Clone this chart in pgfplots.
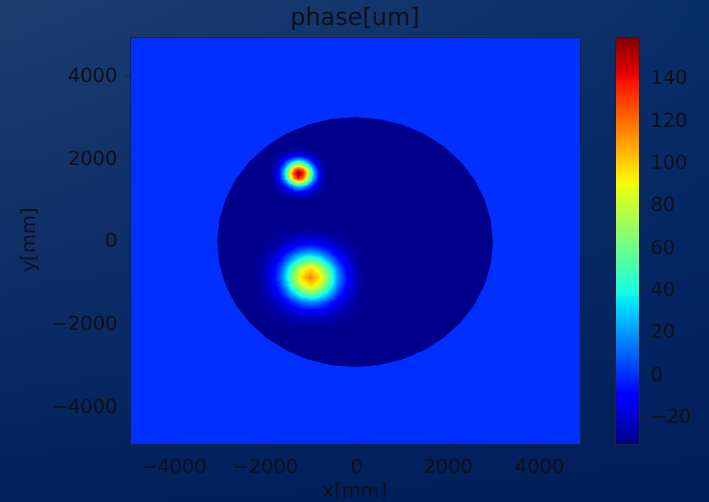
\documentclass[border=0pt]{standalone}
\usepackage{fontspec}
\setmainfont{DejaVu Sans}
\usepackage{pgfplots}
\pgfplotsset{compat=1.18}
\usetikzlibrary{backgrounds,shadings}

\definecolor{txt}{RGB}{15,15,25}
\definecolor{frame}{RGB}{35,35,45}
\definecolor{bgfield}{RGB}{0,48,255}
\definecolor{circ}{RGB}{0,0,140}
\definecolor{bgUL}{RGB}{30,62,112}
\definecolor{bgUR}{RGB}{8,46,106}
\definecolor{bgLL}{RGB}{0,33,92}
\definecolor{bgLR}{RGB}{0,30,90}

\pgfplotsset{
 colormap={mpljet}{rgb255(0cm)=(0,0,128) rgb255(22cm)=(0,0,255) rgb255(25cm)=(0,0,255) rgb255(68cm)=(0,219,255) rgb255(70cm)=(0,230,247) rgb255(75cm)=(21,255,226) rgb255(128cm)=(238,255,8) rgb255(130cm)=(247,245,0) rgb255(132cm)=(255,236,0) rgb255(178cm)=(255,19,0) rgb255(182cm)=(232,0,0) rgb255(200cm)=(128,0,0)}
}

\begin{document}
\begin{tikzpicture}
\begin{axis}[name=ax, at={(0,0)}, anchor=south west,
 scale only axis, width=450bp, height=407bp,
 xmin=-4960, xmax=4880, ymin=-4900, ymax=4920,
 axis background/.style={fill=bgfield},
 colormap name=mpljet, point meta min=-33, point meta max=159.2,
 xtick={-4000,-2000,0,2000,4000}, xticklabels={−4000,−2000,0,2000,4000},
 ytick={-4000,-2000,0,2000,4000}, yticklabels={−4000,−2000,0,2000,4000},
 tick align=outside, xtick pos=bottom, ytick pos=left, major tick length=5bp,
 tick style={frame, line width=0.8bp},
 axis line style={frame, line width=0.8bp},
 ticklabel style={font=\fontsize{19.5}{22}\selectfont, text=txt},
 xticklabel style={yshift=-7bp},
 yticklabel style={xshift=-4bp},
 xlabel={x[mm]}, ylabel={y[mm]}, title={phase[um]},
 label style={font=\fontsize{19.5}{22}\selectfont, text=txt},
 xlabel style={at={(axis description cs:0.5,0)}, anchor=base, yshift=-53bp},
 ylabel style={at={(axis description cs:0,0.5)}, anchor=center, yshift=100bp},
 title style={font=\fontsize{24}{28}\selectfont, text=txt, at={(axis description cs:0.5,1)}, anchor=base, yshift=6bp},
 colorbar,
 colorbar/width=24bp,
 colorbar style={scale only axis, width=24bp, at={(parent axis.north east)}, anchor=north west, xshift=26.5bp,
   ytick={-20,0,20,40,60,80,100,120,140},
   yticklabels={−20,0,20,40,60,80,100,120,140},
   tick align=outside, major tick length=5bp,
   tick style={frame, line width=0.8bp},
   axis line style={frame, line width=0.8bp},
   ticklabel style={font=\fontsize{19.5}{22}\selectfont, text=txt, xshift=3bp}},
]
% circular region
\addplot[fill=circ, draw=none] coordinates {
(2975,-28) (2929,495) (2793,1003) (2571,1480) (2269,1910) (1898,2281) (1468,2583) (991,2805) (483,2941)
(-40,2987) (-563,2941) (-1071,2805) (-1548,2583) (-1978,2281) (-2349,1910) (-2651,1480) (-2873,1003) (-3009,495)
(-3055,-28) (-3009,-551) (-2873,-1059) (-2651,-1536) (-2349,-1966) (-1978,-2337) (-1548,-2639) (-1071,-2861) (-563,-2997)
(-40,-3043) (483,-2997) (991,-2861) (1468,-2639) (1898,-2337) (2269,-1966) (2571,-1536) (2793,-1059) (2929,-551)
} -- cycle;
% spot 1
\addplot[surf, shader=interp, mesh/cols=13, point meta=explicit] table[row sep=\\, meta=c] {
x y c\\
-1909 1001 -31\\ -1804 1001 -31\\ -1699 1001 -31\\ -1594 1001 -31\\ -1489 1001 -31\\ -1384 1001 -31\\ -1279 1001 -31\\ -1174 1001 -31\\ -1069 1001 -31\\ -964 1001 -31\\ -859 1001 -31\\ -754 1001 -31\\ -649 1001 -31\\
-1909 1106 -31\\ -1804 1106 -30.6\\ -1699 1106 -29.9\\ -1594 1106 -28.3\\ -1489 1106 -25.9\\ -1384 1106 -23.6\\ -1279 1106 -22.7\\ -1174 1106 -23.6\\ -1069 1106 -25.9\\ -964 1106 -28.3\\ -859 1106 -29.9\\ -754 1106 -30.6\\ -649 1106 -31\\
-1909 1211 -31\\ -1804 1211 -29.9\\ -1699 1211 -27.5\\ -1594 1211 -22.7\\ -1489 1211 -15.4\\ -1384 1211 -8.3\\ -1279 1211 -5.3\\ -1174 1211 -8.3\\ -1069 1211 -15.4\\ -964 1211 -22.7\\ -859 1211 -27.5\\ -754 1211 -29.9\\ -649 1211 -31\\
-1909 1316 -31\\ -1804 1316 -28.3\\ -1699 1316 -22.7\\ -1594 1316 -11.0\\ -1489 1316 6.4\\ -1384 1316 23.4\\ -1279 1316 30.7\\ -1174 1316 23.4\\ -1069 1316 6.4\\ -964 1316 -11.0\\ -859 1316 -22.7\\ -754 1316 -28.3\\ -649 1316 -31\\
-1909 1421 -31\\ -1804 1421 -25.9\\ -1699 1421 -15.4\\ -1594 1421 6.4\\ -1489 1421 38.9\\ -1384 1421 70.7\\ -1279 1421 84.2\\ -1174 1421 70.7\\ -1069 1421 38.9\\ -964 1421 6.4\\ -859 1421 -15.4\\ -754 1421 -25.9\\ -649 1421 -31\\
-1909 1526 -31\\ -1804 1526 -23.6\\ -1699 1526 -8.3\\ -1594 1526 23.4\\ -1489 1526 70.7\\ -1384 1526 117.0\\ -1279 1526 136.7\\ -1174 1526 117.0\\ -1069 1526 70.7\\ -964 1526 23.4\\ -859 1526 -8.3\\ -754 1526 -23.6\\ -649 1526 -31\\
-1909 1631 -31\\ -1804 1631 -22.7\\ -1699 1631 -5.3\\ -1594 1631 30.7\\ -1489 1631 84.2\\ -1384 1631 136.7\\ -1279 1631 159\\ -1174 1631 136.7\\ -1069 1631 84.2\\ -964 1631 30.7\\ -859 1631 -5.3\\ -754 1631 -22.7\\ -649 1631 -31\\
-1909 1736 -31\\ -1804 1736 -23.6\\ -1699 1736 -8.3\\ -1594 1736 23.4\\ -1489 1736 70.7\\ -1384 1736 117.0\\ -1279 1736 136.7\\ -1174 1736 117.0\\ -1069 1736 70.7\\ -964 1736 23.4\\ -859 1736 -8.3\\ -754 1736 -23.6\\ -649 1736 -31\\
-1909 1841 -31\\ -1804 1841 -25.9\\ -1699 1841 -15.4\\ -1594 1841 6.4\\ -1489 1841 38.9\\ -1384 1841 70.7\\ -1279 1841 84.2\\ -1174 1841 70.7\\ -1069 1841 38.9\\ -964 1841 6.4\\ -859 1841 -15.4\\ -754 1841 -25.9\\ -649 1841 -31\\
-1909 1946 -31\\ -1804 1946 -28.3\\ -1699 1946 -22.7\\ -1594 1946 -11.0\\ -1489 1946 6.4\\ -1384 1946 23.4\\ -1279 1946 30.7\\ -1174 1946 23.4\\ -1069 1946 6.4\\ -964 1946 -11.0\\ -859 1946 -22.7\\ -754 1946 -28.3\\ -649 1946 -31\\
-1909 2051 -31\\ -1804 2051 -29.9\\ -1699 2051 -27.5\\ -1594 2051 -22.7\\ -1489 2051 -15.4\\ -1384 2051 -8.3\\ -1279 2051 -5.3\\ -1174 2051 -8.3\\ -1069 2051 -15.4\\ -964 2051 -22.7\\ -859 2051 -27.5\\ -754 2051 -29.9\\ -649 2051 -31\\
-1909 2156 -31\\ -1804 2156 -30.6\\ -1699 2156 -29.9\\ -1594 2156 -28.3\\ -1489 2156 -25.9\\ -1384 2156 -23.6\\ -1279 2156 -22.7\\ -1174 2156 -23.6\\ -1069 2156 -25.9\\ -964 2156 -28.3\\ -859 2156 -29.9\\ -754 2156 -30.6\\ -649 2156 -31\\
-1909 2261 -31\\ -1804 2261 -31\\ -1699 2261 -31\\ -1594 2261 -31\\ -1489 2261 -31\\ -1384 2261 -31\\ -1279 2261 -31\\ -1174 2261 -31\\ -1069 2261 -31\\ -964 2261 -31\\ -859 2261 -31\\ -754 2261 -31\\ -649 2261 -31\\
};
% spot 2
\addplot[surf, shader=interp, mesh/cols=13, point meta=explicit] table[row sep=\\, meta=c] {
x y c\\
-2253 -2094 -31\\ -2048 -2094 -31\\ -1843 -2094 -31\\ -1638 -2094 -31\\ -1433 -2094 -31\\ -1228 -2094 -31\\ -1023 -2094 -31\\ -818 -2094 -31\\ -613 -2094 -31\\ -408 -2094 -31\\ -203 -2094 -31\\ 2 -2094 -31\\ 207 -2094 -31\\
-2253 -1889 -31\\ -2048 -1889 -30.7\\ -1843 -1889 -30.1\\ -1638 -1889 -28.9\\ -1433 -1889 -27.1\\ -1228 -1889 -25.3\\ -1023 -1889 -24.6\\ -818 -1889 -25.3\\ -613 -1889 -27.1\\ -408 -1889 -28.9\\ -203 -1889 -30.1\\ 2 -1889 -30.7\\ 207 -1889 -31\\
-2253 -1684 -31\\ -2048 -1684 -30.1\\ -1843 -1684 -28.3\\ -1638 -1684 -24.6\\ -1433 -1684 -19.0\\ -1228 -1684 -13.6\\ -1023 -1684 -11.2\\ -818 -1684 -13.6\\ -613 -1684 -19.0\\ -408 -1684 -24.6\\ -203 -1684 -28.3\\ 2 -1684 -30.1\\ 207 -1684 -31\\
-2253 -1479 -31\\ -2048 -1479 -28.9\\ -1843 -1479 -24.6\\ -1638 -1479 -15.6\\ -1433 -1479 -2.3\\ -1228 -1479 10.8\\ -1023 -1479 16.4\\ -818 -1479 10.8\\ -613 -1479 -2.3\\ -408 -1479 -15.6\\ -203 -1479 -24.6\\ 2 -1479 -28.9\\ 207 -1479 -31\\
-2253 -1274 -31\\ -2048 -1274 -27.1\\ -1843 -1274 -19.0\\ -1638 -1274 -2.3\\ -1433 -1274 22.7\\ -1228 -1274 47.2\\ -1023 -1274 57.5\\ -818 -1274 47.2\\ -613 -1274 22.7\\ -408 -1274 -2.3\\ -203 -1274 -19.0\\ 2 -1274 -27.1\\ 207 -1274 -31\\
-2253 -1069 -31\\ -2048 -1069 -25.3\\ -1843 -1069 -13.6\\ -1638 -1069 10.8\\ -1433 -1069 47.2\\ -1228 -1069 82.7\\ -1023 -1069 97.8\\ -818 -1069 82.7\\ -613 -1069 47.2\\ -408 -1069 10.8\\ -203 -1069 -13.6\\ 2 -1069 -25.3\\ 207 -1069 -31\\
-2253 -864 -31\\ -2048 -864 -24.6\\ -1843 -864 -11.2\\ -1638 -864 16.4\\ -1433 -864 57.5\\ -1228 -864 97.8\\ -1023 -864 115\\ -818 -864 97.8\\ -613 -864 57.5\\ -408 -864 16.4\\ -203 -864 -11.2\\ 2 -864 -24.6\\ 207 -864 -31\\
-2253 -659 -31\\ -2048 -659 -25.3\\ -1843 -659 -13.6\\ -1638 -659 10.8\\ -1433 -659 47.2\\ -1228 -659 82.7\\ -1023 -659 97.8\\ -818 -659 82.7\\ -613 -659 47.2\\ -408 -659 10.8\\ -203 -659 -13.6\\ 2 -659 -25.3\\ 207 -659 -31\\
-2253 -454 -31\\ -2048 -454 -27.1\\ -1843 -454 -19.0\\ -1638 -454 -2.3\\ -1433 -454 22.7\\ -1228 -454 47.2\\ -1023 -454 57.5\\ -818 -454 47.2\\ -613 -454 22.7\\ -408 -454 -2.3\\ -203 -454 -19.0\\ 2 -454 -27.1\\ 207 -454 -31\\
-2253 -249 -31\\ -2048 -249 -28.9\\ -1843 -249 -24.6\\ -1638 -249 -15.6\\ -1433 -249 -2.3\\ -1228 -249 10.8\\ -1023 -249 16.4\\ -818 -249 10.8\\ -613 -249 -2.3\\ -408 -249 -15.6\\ -203 -249 -24.6\\ 2 -249 -28.9\\ 207 -249 -31\\
-2253 -44 -31\\ -2048 -44 -30.1\\ -1843 -44 -28.3\\ -1638 -44 -24.6\\ -1433 -44 -19.0\\ -1228 -44 -13.6\\ -1023 -44 -11.2\\ -818 -44 -13.6\\ -613 -44 -19.0\\ -408 -44 -24.6\\ -203 -44 -28.3\\ 2 -44 -30.1\\ 207 -44 -31\\
-2253 161 -31\\ -2048 161 -30.7\\ -1843 161 -30.1\\ -1638 161 -28.9\\ -1433 161 -27.1\\ -1228 161 -25.3\\ -1023 161 -24.6\\ -818 161 -25.3\\ -613 161 -27.1\\ -408 161 -28.9\\ -203 161 -30.1\\ 2 161 -30.7\\ 207 161 -31\\
-2253 366 -31\\ -2048 366 -31\\ -1843 366 -31\\ -1638 366 -31\\ -1433 366 -31\\ -1228 366 -31\\ -1023 366 -31\\ -818 366 -31\\ -613 366 -31\\ -408 366 -31\\ -203 366 -31\\ 2 366 -31\\ 207 366 -31\\
};
\end{axis}
\begin{scope}[on background layer]
\shade[upper left=bgUL, upper right=bgUR, lower left=bgLL, lower right=bgLR]
 ([xshift=-130bp,yshift=-58bp]ax.south west) rectangle ([xshift=129bp,yshift=37bp]ax.north east);
\end{scope}
\pgfresetboundingbox
\path[use as bounding box] ([xshift=-130bp,yshift=-58bp]ax.south west) rectangle ([xshift=129bp,yshift=37bp]ax.north east);
\end{tikzpicture}
\end{document}
